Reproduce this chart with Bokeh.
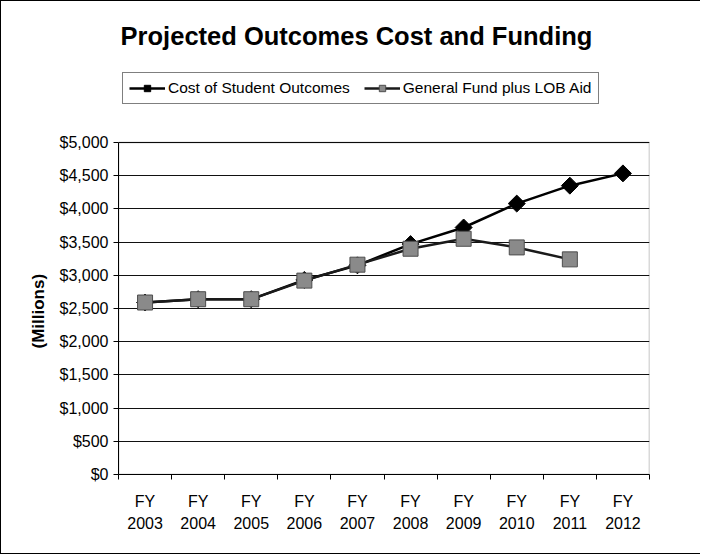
import math
from bokeh.plotting import figure
from bokeh.models import (ColumnDataSource, FixedTicker, Legend, LegendItem,
                          NumeralTickFormatter, Range1d, Label, BoxAnnotation, Title)
from bokeh.embed import file_html
from bokeh.resources import INLINE

years = ["2003", "2004", "2005", "2006", "2007", "2008", "2009", "2010", "2011", "2012"]
cost = [2590, 2640, 2640, 2930, 3150, 3470, 3720, 4080, 4350, 4535]
funding = [2590, 2640, 2640, 2920, 3160, 3400, 3550, 3420, 3240]
y_ticks = [0, 500, 1000, 1500, 2000, 2500, 3000, 3500, 4000, 4500, 5000]
y_max = 5000

# layout geometry (pixels): the frame spans the canvas top down to the plot bottom;
# the y range is stretched so that y_max lands at the plot-area top.
W, H = 700, 554
frame_h = 473          # canvas top -> plot bottom
plot_h = 332           # plot-area height ($0 -> $5,000)
y_top = y_max * frame_h / plot_h

xc = [i + 0.5 for i in range(len(years))]
src_cost = ColumnDataSource(dict(x=xc, y=cost))
src_fund = ColumnDataSource(dict(x=xc[:len(funding)], y=funding))

p = figure(width=W, height=H, output_backend="svg", toolbar_location=None,
           x_range=Range1d(0, len(years)), y_range=Range1d(0, y_top),
           min_border_left=117, min_border_right=52, min_border_top=0,
           min_border_bottom=H - frame_h)
p.styles = {"border-top": "1px solid #000", "border-left": "1px solid #000",
            "border-bottom": "1px solid #000"}
p.background_fill_color = "white"
p.border_fill_color = "white"
p.outline_line_color = None

# plot-area box
p.add_layout(BoxAnnotation(left=0, right=len(years), bottom=0, top=y_max,
                           fill_alpha=0, line_color="black", line_width=1.5,
                           level="underlay"))

# axes
xa = p.xaxis[0]
xa.ticker = FixedTicker(ticks=xc, minor_ticks=list(range(len(years) + 1)))
xa.major_label_overrides = {x: "FY\n" + y for x, y in zip(xc, years)}
xa.major_tick_line_color = None
xa.minor_tick_line_color = "black"
xa.minor_tick_out = 5
xa.minor_tick_in = 0
xa.major_label_standoff = 12
xa.major_label_text_font = "Liberation Sans"
xa.major_label_text_font_size = "16px"
xa.major_label_text_line_height = 1.35
xa.major_label_text_color = "black"
xa.axis_line_color = "black"

ya = p.yaxis[0]
ya.bounds = (0, y_max)
ya.ticker = FixedTicker(ticks=y_ticks, minor_ticks=[])
ya.formatter = NumeralTickFormatter(format="$0,0")
ya.major_tick_out = 5
ya.major_tick_in = 0
ya.major_label_standoff = 5
ya.major_label_text_font = "Liberation Sans"
ya.major_label_text_font_size = "16px"
ya.major_label_text_color = "black"
ya.axis_line_color = "black"

# y-axis title, shifted down to sit beside the plot area
p.add_layout(Title(text="(Millions)", text_font="Liberation Sans",
                   text_font_size="17px", text_font_style="bold",
                   text_color="black", align="left", offset=126, standoff=18),
             "left")

p.xgrid.grid_line_color = None
p.ygrid.bounds = (0, y_max)
p.ygrid.grid_line_color = "#111111"
p.ygrid.grid_line_width = 1

# series
l1 = p.line("x", "y", source=src_cost, line_color="black", line_width=2.5)
m1 = p.scatter("x", "y", source=src_cost, marker="square", size=12,
               angle=math.pi / 4, fill_color="black", line_color="black")
l2 = p.line("x", "y", source=src_fund, line_color="#1a1a1a", line_width=2.5)
m2 = p.scatter("x", "y", source=src_fund, marker="square", size=15,
               fill_color="#8a8a8a", line_color="#4d4d4d")

legend = Legend(items=[LegendItem(label="Cost of Student Outcomes", renderers=[l1, m1]),
                       LegendItem(label="General Fund plus LOB Aid", renderers=[l2, m2])],
                location=(4, 370), orientation="horizontal",
                border_line_color="black", border_line_width=1,
                label_text_font="Liberation Sans", label_text_font_size="15.5px",
                label_text_color="black",
                glyph_width=36, glyph_height=16, spacing=14, padding=6,
                label_standoff=3, margin=0)
p.add_layout(legend, "center")

p.add_layout(Label(x=238, y=439, x_units="screen", y_units="screen",
                   text="Projected Outcomes Cost and Funding",
                   text_font="Liberation Sans", text_font_size="25.5px",
                   text_font_style="bold", text_align="center",
                   text_baseline="middle", text_color="black"))

open("out.html", "w").write(file_html(p, INLINE))
